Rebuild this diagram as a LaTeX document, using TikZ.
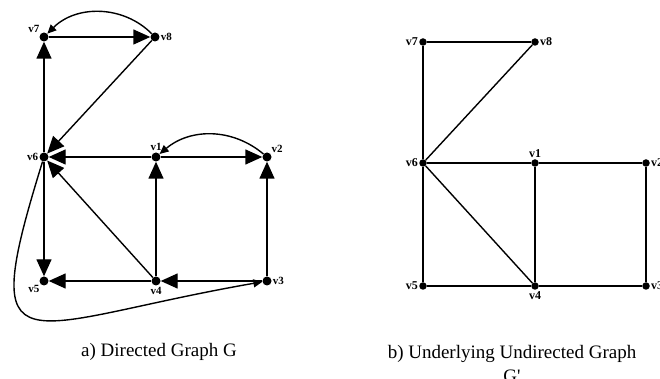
\documentclass[tikz,border=0pt]{standalone}
\usepackage{fontspec}
\setmainfont{Liberation Serif}
\usepackage{tikz}
\usetikzlibrary{positioning, arrows.meta}

\begin{document}
\begin{tikzpicture}[
                x=1pt, y=1pt,
                on grid,
                vnode/.style={circle, fill=black, inner sep=0pt, minimum size=9pt},
                unode/.style={circle, fill=black, inner sep=0pt, minimum size=7.5pt},
                vlabel/.style={font=\fontsize{11}{11}\selectfont\bfseries, inner sep=1pt},
                ulabel/.style={font=\fontsize{12}{12}\selectfont\bfseries, inner sep=1pt},
                bigarrow/.style={-{Triangle[length=17pt, width=15pt]}, line width=1.4pt},
                smallarrow/.style={-{Triangle[length=9pt, width=8pt]}, line width=1.4pt},
                edge/.style={line width=1.4pt},
                caption/.style={font=\fontsize{19}{24}\selectfont, align=center}
                ]
                \useasboundingbox (0,0) rectangle (660,379);

                % 방향 그래프 G
                \node[vnode, label={[vlabel]left:v6}] (a6) at (44,222) {};
                \node[vnode, label={[vlabel]above left:v7}, above=120pt of a6] (a7) {};
                \node[vnode, label={[vlabel]right:v8}, right=111pt of a7] (a8) {};
                \node[vnode, label={[vlabel]above:v1}, right=112pt of a6] (a1) {};
                \node[vnode, label={[vlabel]above right:v2}, right=111pt of a1] (a2) {};
                \node[vnode, label={[vlabel]below left:v5}, below=124pt of a6] (a5) {};
                \node[vnode, label={[vlabel]below:v4}, right=112pt of a5] (a4) {};
                \node[vnode, label={[vlabel]right:v3}, right=111pt of a4] (a3) {};

                \draw[bigarrow] (a7) -- (a8);
                \draw[smallarrow] (a8) to[bend right=45] (a7);
                \draw[bigarrow] (a6) -- (a7);
                \draw[bigarrow] (a8) -- (a6);
                \draw[bigarrow] (a1) -- (a6);
                \draw[bigarrow] (a4) -- (a6);
                \draw[bigarrow] (a6) -- (a5);
                \draw[bigarrow] (a4) -- (a5);
                \draw[bigarrow] (a3) -- (a4);
                \draw[bigarrow] (a4) -- (a1);
                \draw[bigarrow] (a3) -- (a2);
                \draw[bigarrow] (a1) -- (a2);
                \draw[smallarrow] (a2) to[bend right=40] (a1);
                \draw[smallarrow] (a6) .. controls +(-69,-222) and +(-247,-43) .. (a3);

                \node[caption, anchor=base] (capa) at (159,22) {a) Directed Graph G};

                % 무방향 그래프 G'
                \node[unode, label={[ulabel]left:v6}] (b6) at (423,216) {};
                \node[unode, label={[ulabel]left:v7}, above=121pt of b6] (b7) {};
                \node[unode, label={[ulabel]right:v8}, right=112pt of b7] (b8) {};
                \node[unode, label={[ulabel]above:v1}, right=112pt of b6] (b1) {};
                \node[unode, label={[ulabel]right:v2}, right=111pt of b1] (b2) {};
                \node[unode, label={[ulabel]left:v5}, below=123pt of b6] (b5) {};
                \node[unode, label={[ulabel]below:v4}, right=112pt of b5] (b4) {};
                \node[unode, label={[ulabel]right:v3}, right=111pt of b4] (b3) {};

                \draw[edge] (b7) -- (b8);
                \draw[edge] (b7) -- (b6);
                \draw[edge] (b8) -- (b6);
                \draw[edge] (b6) -- (b1);
                \draw[edge] (b1) -- (b2);
                \draw[edge] (b6) -- (b5);
                \draw[edge] (b6) -- (b4);
                \draw[edge] (b1) -- (b4);
                \draw[edge] (b2) -- (b3);
                \draw[edge] (b5) -- (b4);
                \draw[edge] (b4) -- (b3);

                \node[caption, anchor=north] (capb) at (512,37) {b) Underlying Undirected Graph\\G\textquotesingle};
            \end{tikzpicture}
\end{document}
